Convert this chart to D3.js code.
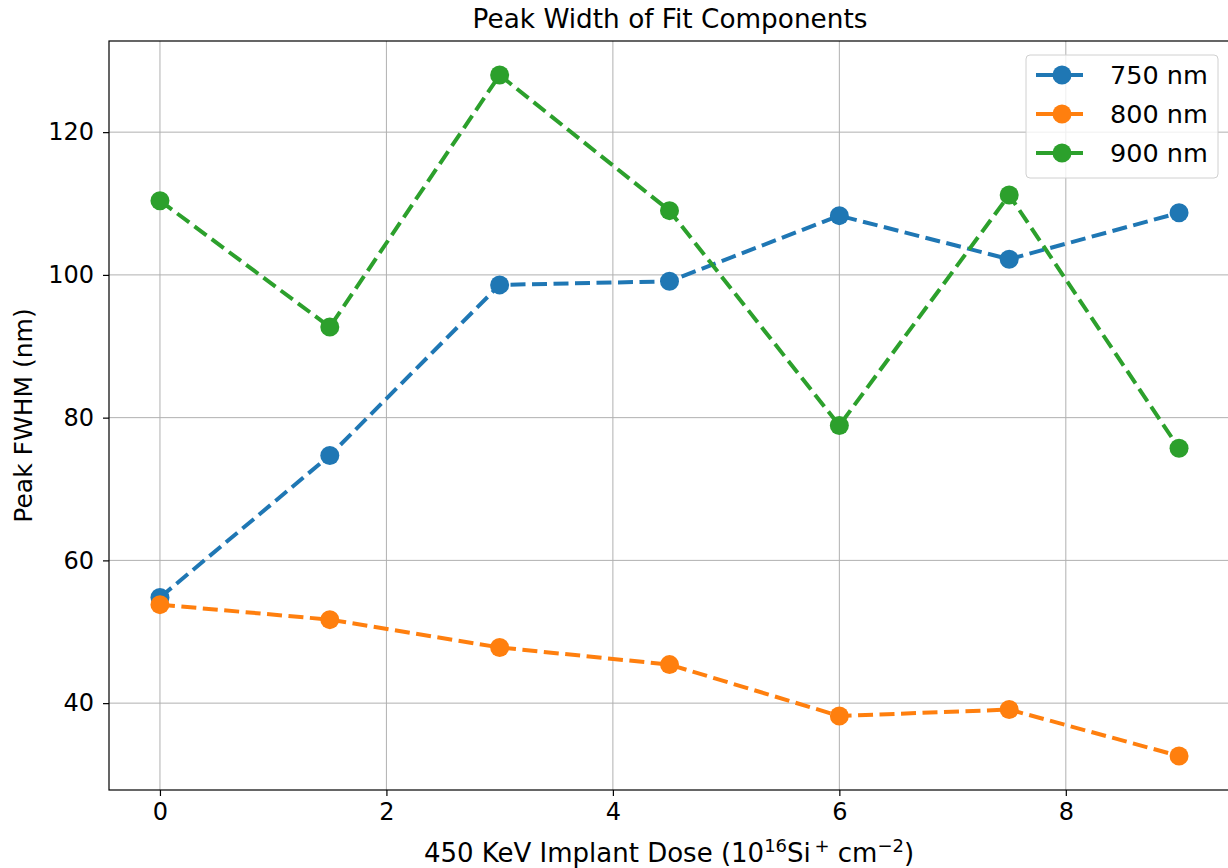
<!DOCTYPE html>
<html>
<head>
<meta charset="utf-8">
<script src="https://cdn.jsdelivr.net/npm/d3@7"></script>
<style>
  body { margin: 0; background: #fff; }
  svg text { font-family: "DejaVu Sans", sans-serif; fill: #000; }
</style>
</head>
<body>
<div id="container"></div>
<script>
// Data
var doses = [0, 1.5, 3, 4.5, 6, 7.5, 9];
var fwhm750 = [54.8, 74.7, 98.6, 99.1, 108.3, 102.2, 108.7];
var fwhm800 = [53.8, 51.7, 47.8, 45.4, 38.2, 39.1, 32.6];
var fwhm900 = [110.4, 92.7, 128.0, 109.0, 78.9, 111.2, 75.7];
var seriesNames = ["750 nm", "800 nm", "900 nm"];
var seriesColors = ["#1f77b4", "#ff7f0e", "#2ca02c"];
var xTicks = [0, 2, 4, 6, 8];
var yTicks = [40, 60, 80, 100, 120];

var W = 1228, H = 868;
var margin = {top: 41, right: -2, bottom: 78, left: 109};
var width = W - margin.left - margin.right,
    height = H - margin.top - margin.bottom;

var svg = d3.select("#container").append("svg")
    .attr("width", W).attr("height", H);

var g = svg.append("g")
    .attr("transform", "translate(" + margin.left + "," + margin.top + ")");

var x = d3.scaleLinear().domain([-0.45, 9.45]).range([0, width]);
var y = d3.scaleLinear().domain([27.83, 132.77]).range([height, 0]);

// grid
g.selectAll(".gx").data(xTicks).enter().append("line")
    .attr("x1", function(d) { return x(d); }).attr("x2", function(d) { return x(d); })
    .attr("y1", 0).attr("y2", height)
    .attr("stroke", "#b0b0b0").attr("stroke-width", 1);
g.selectAll(".gy").data(yTicks).enter().append("line")
    .attr("y1", function(d) { return y(d); }).attr("y2", function(d) { return y(d); })
    .attr("x1", 0).attr("x2", width)
    .attr("stroke", "#b0b0b0").attr("stroke-width", 1);

// axes
var xAxis = g.append("g")
    .attr("transform", "translate(0," + height + ")")
    .call(d3.axisBottom(x).tickValues(xTicks).tickSize(6).tickPadding(7).tickFormat(d3.format("d")));
var yAxis = g.append("g")
    .call(d3.axisLeft(y).tickValues(yTicks).tickSize(6).tickPadding(9).tickFormat(d3.format("d")));
[xAxis, yAxis].forEach(function(a) {
    a.select(".domain").remove();
    a.selectAll("text").style("font-size", "24px").style("font-family", "DejaVu Sans");
    a.selectAll("line").attr("stroke", "#000").attr("stroke-width", 1.2);
});

// frame
g.append("rect").attr("width", width).attr("height", height)
    .attr("fill", "none").attr("stroke", "#000").attr("stroke-width", 1.2);

var allSeries = [fwhm750, fwhm800, fwhm900];
var line = d3.line()
    .x(function(d, i) { return x(doses[i]); })
    .y(function(d) { return y(d); });

allSeries.forEach(function(vals, k) {
    g.append("path").datum(vals)
        .attr("d", line)
        .attr("fill", "none")
        .attr("stroke", seriesColors[k])
        .attr("stroke-width", 4)
        .attr("stroke-dasharray", "15,6.5");
    g.selectAll(".pt" + k).data(vals).enter().append("circle")
        .attr("cx", function(d, i) { return x(doses[i]); })
        .attr("cy", function(d) { return y(d); })
        .attr("r", 9.5)
        .attr("fill", seriesColors[k]);
});

// title and labels
svg.append("text")
    .attr("x", 670).attr("y", 28)
    .attr("text-anchor", "middle").style("font-size", "26.3px")
    .text("Peak Width of Fit Components");

var xl = svg.append("text")
    .attr("x", 669).attr("y", 862)
    .attr("text-anchor", "middle").style("font-size", "26px");
xl.append("tspan").text("450 KeV Implant Dose (10");
xl.append("tspan").attr("dy", -10).style("font-size", "18px").text("16");
xl.append("tspan").attr("dy", 10).text("Si");
xl.append("tspan").attr("dy", -10).style("font-size", "18px").text("\u2009+");
xl.append("tspan").attr("dy", 10).text(" cm");
xl.append("tspan").attr("dy", -10).style("font-size", "18px").text("\u22122");
xl.append("tspan").attr("dy", 10).text(")");

svg.append("text")
    .attr("transform", "translate(32," + (margin.top + height / 2) + ") rotate(-90)")
    .attr("text-anchor", "middle").style("font-size", "25px")
    .text("Peak FWHM (nm)");

// legend
var lg = svg.append("g").attr("transform", "translate(1026,55)");
lg.append("rect").attr("width", 192).attr("height", 123).attr("rx", 4)
    .attr("fill", "#fff").attr("fill-opacity", 0.8)
    .attr("stroke", "#d0d0d0");
seriesNames.forEach(function(name, k) {
    var yy = 20 + k * 39;
    lg.append("line").attr("x1", 10).attr("x2", 57).attr("y1", yy).attr("y2", yy)
        .attr("stroke", seriesColors[k]).attr("stroke-width", 4);
    lg.append("circle").attr("cx", 36).attr("cy", yy).attr("r", 9.5).attr("fill", seriesColors[k]);
    lg.append("text").attr("x", 84).attr("y", yy + 9).style("font-size", "25.5px").text(name);
});
</script>
</body>
</html>
